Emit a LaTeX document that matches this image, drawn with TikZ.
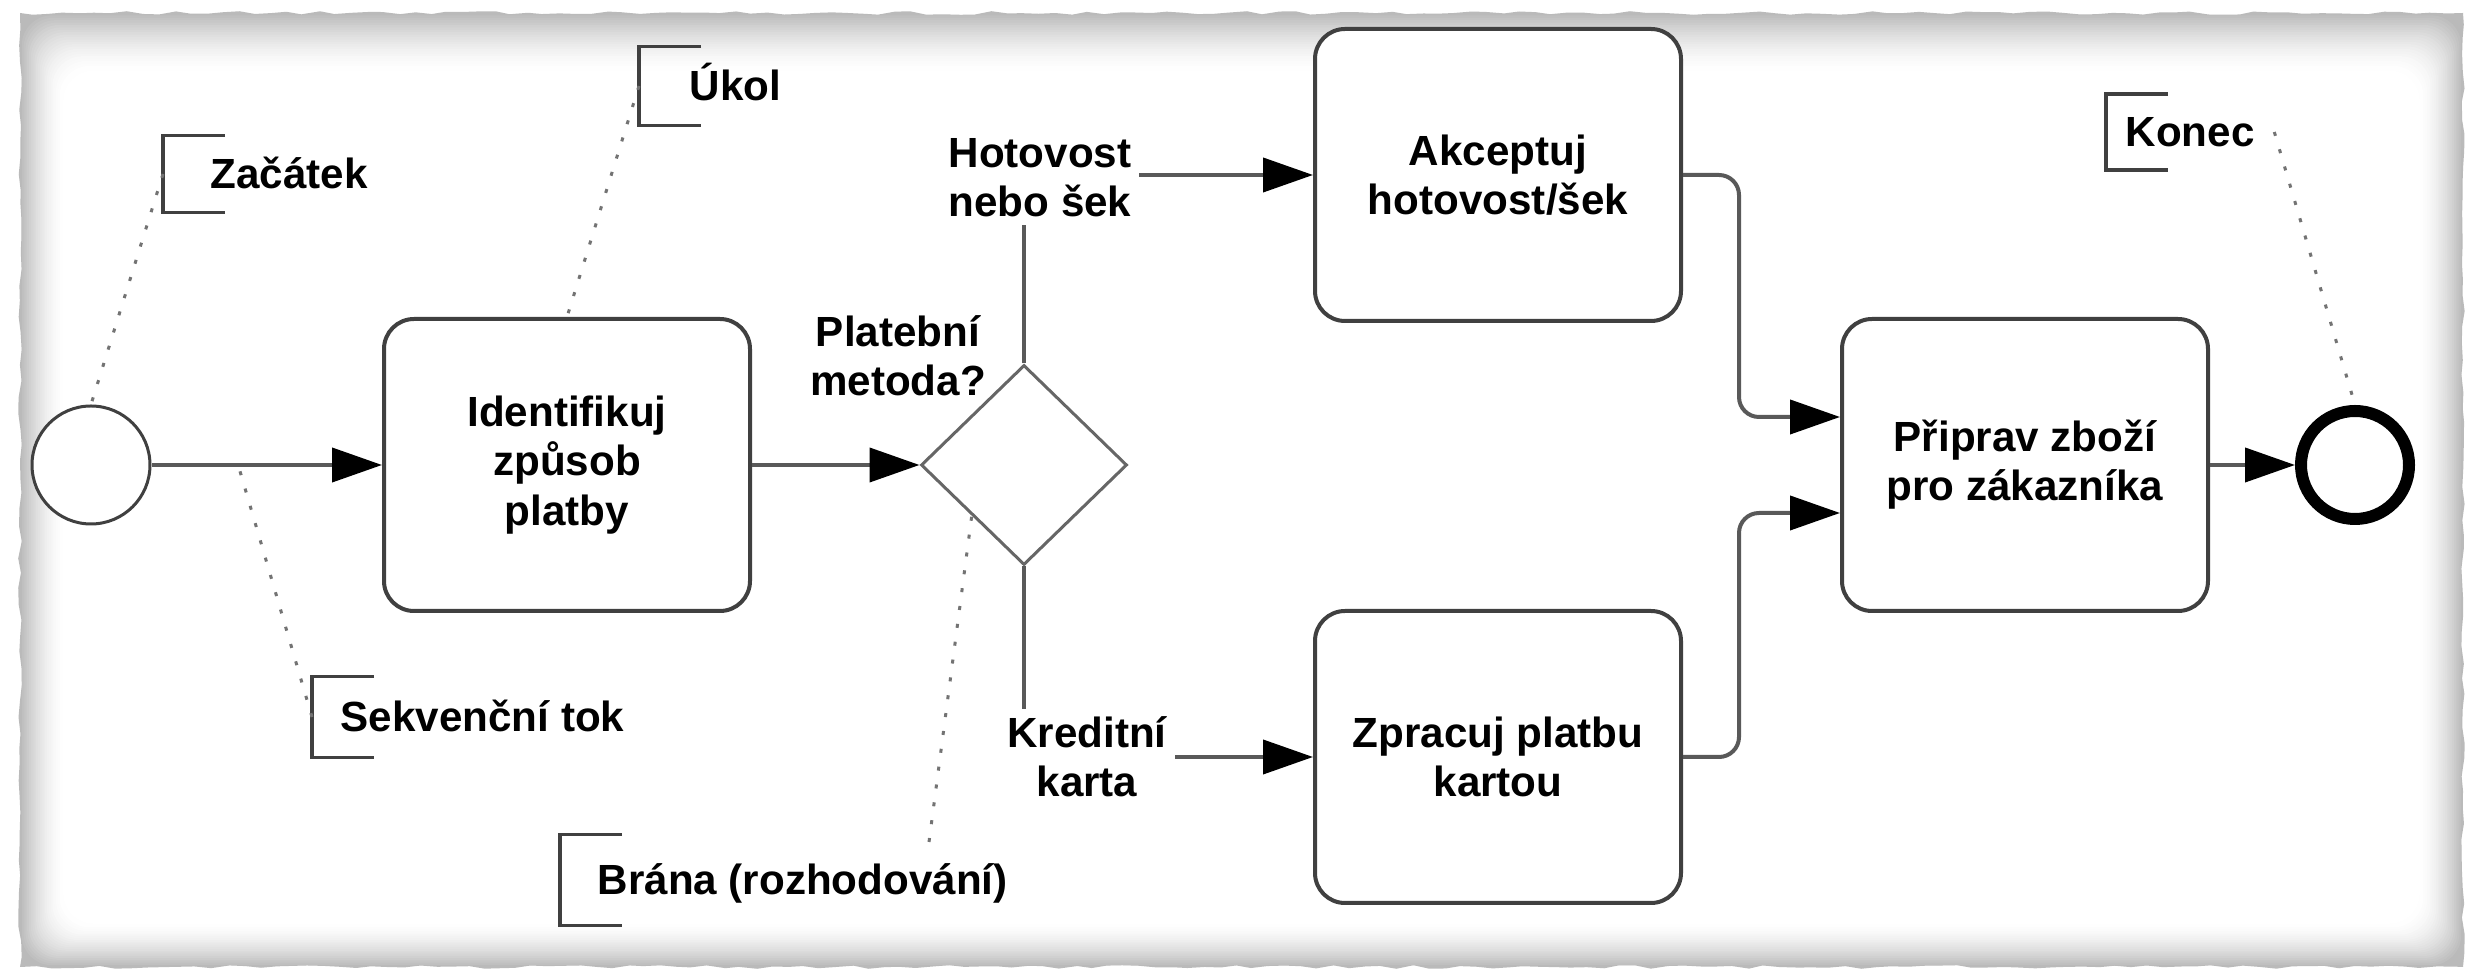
\documentclass[tikz,border=0pt]{standalone}
\usepackage{fontspec}
\setmainfont{Liberation Sans}
\usetikzlibrary{shapes.geometric,arrows.meta,decorations.pathmorphing}

\begin{document}
\begin{tikzpicture}[x=0.1mm,y=-0.1mm,
  every node/.style={font=\fontsize{12}{14}\selectfont\bfseries},
  task/.style={draw=black!75, line width=0.4mm, fill=white, rounded corners=3mm,
    minimum width=36.6mm, minimum height=29.2mm, align=center, inner sep=0pt},
  flow/.style={draw=black!65, line width=0.4mm,
    -{Triangle[length=5mm,width=3.4mm,color=black]}},
  lbl/.style={align=center, inner sep=0.8mm},
  anno/.style={anchor=west, minimum height=7.6mm, text height=3mm,
    text depth=0pt, inner ysep=0pt},
  bracket/.style={draw=black!75, line width=0.35mm},
  assoc/.style={draw=black!55, line width=0.3mm, dash pattern=on 0.4mm off 1.4mm},
]
\useasboundingbox (0,0) rectangle (2474,970);

% paper sheet with torn edge and soft inner shadow
\fill[white] (0,0) rectangle (2474,970);
\pgfmathsetseed{7}
\fill[black!27, decorate,
  decoration={random steps, segment length=1.6mm, amplitude=0.18mm}]
  (20,13) rectangle (2463,967);
\foreach \i in {1,...,24}{
  \pgfmathsetmacro\g{27*(1-\i/24)^1.6}
  \fill[black!\g, rounded corners=3mm]
    (20+1.8*\i,13+2.4*\i) rectangle (2463-1.8*\i,967-1.8*\i);
}

% events, tasks and gateway
\node[circle, draw=black!75, line width=0.3mm, fill=white,
  minimum size=11.8mm, inner sep=0pt] (start) at (91,465) {};
\node[task] (t1) at (567,465) {Identifikuj\\způsob\\platby};
\node[diamond, draw=black!60, line width=0.3mm, fill=white,
  minimum width=20.6mm, minimum height=20mm, inner sep=0pt] (gw) at (1024,465) {};
\node[task] (t2) at (1498,175) {Akceptuj\\hotovost/šek};
\node[task] (t3) at (1498,757) {Zpracuj platbu\\kartou};
\node[task] (t4) at (2025,465) {Připrav zboží\\pro zákazníka};
\node[circle, draw=black, line width=1.2mm, fill=white,
  minimum size=10.8mm, inner sep=0pt] (end) at (2355,465) {};

% sequence flows
\draw[flow] (start) -- (t1);
\draw[flow] (t1) -- (gw);
\draw[flow] (gw.north) |- (t2.west);
\draw[flow] (gw.south) |- (t3.west);
\draw[flow, rounded corners=2mm] (t2.east) -- ++(56,0) |- ([yshift=4.8mm]t4.west);
\draw[flow, rounded corners=2mm] (t3.east) -- ++(56,0) |- ([yshift=-4.8mm]t4.west);
\draw[flow] (t4) -- (end);

% flow labels
\node[lbl] (pm) at (898,356) {Platební\\metoda?};
\node[lbl, fill=white] (hot) at (1040,178) {Hotovost\\nebo šek};
\node[lbl, fill=white] (kre) at (1087,757) {Kreditní\\karta};

% text annotations
\node[anno, inner xsep=4.7mm] (zac) at (163,174) {Začátek};
\node[anno, inner xsep=5.0mm, minimum height=7.8mm] (ukol) at (639,86) {Úkol};
\node[anno, inner xsep=2.8mm, minimum height=8mm] (sek) at (312,717) {Sekvenční tok};
\node[anno, inner xsep=3.7mm, minimum height=9mm] (brana) at (560,880) {Brána (rozhodování)};
\node[anno, inner xsep=1.9mm, minimum height=7.5mm] (konec) at (2106,132) {Konec};
\foreach \a in {zac,ukol,sek,brana,konec}{
  \draw[bracket] ([xshift=6.2mm]\a.north west) -- (\a.north west)
    -- (\a.south west) -- ([xshift=6.2mm]\a.south west);
}

% associations
\path (start.east) -- (t1.west) coordinate[pos=0.376] (sfpt);
\coordinate (brtop) at (929,842);
\draw[assoc] (zac.west) -- (start.north);
\draw[assoc] (ukol.west) -- (t1.north);
\draw[assoc] (sek.west) -- (sfpt);
\draw[assoc] (brtop) -- (gw.south west);
\draw[assoc] (konec.east) -- (end.north);
\end{tikzpicture}
\end{document}
